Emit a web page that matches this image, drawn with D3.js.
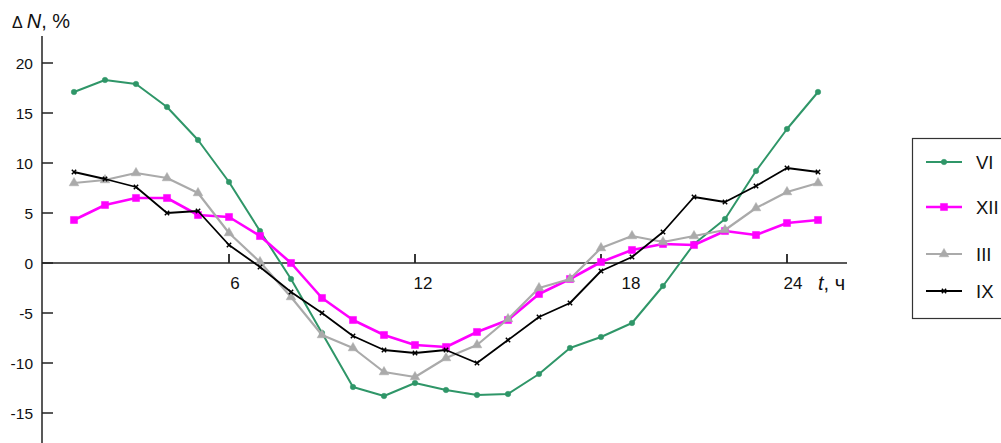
<!DOCTYPE html>
<html>
<head>
<meta charset="utf-8">
<script src="https://cdn.jsdelivr.net/npm/d3@7"></script>
<style>
  html, body { margin: 0; padding: 0; background: #fff; }
  svg { display: block; font-family: "Liberation Sans", Arial, sans-serif; }
</style>
</head>
<body>
<svg id="chart" width="1001" height="443"></svg>
<script>
// Hours of the day (1..25, hour 25 repeats hour 1)
const hours = d3.range(1, 26);

// Deviation of N from the daily mean, % — by month
const seriesVI  = [17.1, 18.3, 17.9, 15.6, 12.3, 8.1, 3.2, -1.6, -7.0, -12.4, -13.3, -12.0, -12.7, -13.2, -13.1, -11.1, -8.5, -7.4, -6.0, -2.3, 1.9, 4.4, 9.2, 13.4, 17.1];
const seriesXII = [4.3, 5.8, 6.5, 6.5, 4.8, 4.6, 2.7, 0.0, -3.5, -5.7, -7.2, -8.2, -8.4, -6.9, -5.7, -3.1, -1.6, 0.1, 1.3, 1.9, 1.8, 3.2, 2.8, 4.0, 4.3];
const seriesIII = [8.0, 8.3, 9.0, 8.5, 7.0, 3.0, 0.1, -3.4, -7.2, -8.5, -10.9, -11.4, -9.5, -8.2, -5.6, -2.5, -1.6, 1.5, 2.7, 2.1, 2.7, 3.3, 5.5, 7.1, 8.0];
const seriesIX  = [9.1, 8.4, 7.6, 5.0, 5.2, 1.8, -0.4, -2.9, -5.0, -7.3, -8.7, -9.0, -8.7, -10.0, -7.7, -5.4, -4.0, -0.8, 0.6, 3.1, 6.6, 6.1, 7.7, 9.5, 9.1];

const seriesNames = ["VI", "XII", "III", "IX"];
const yTickValues = [-15, -10, -5, 0, 5, 10, 15, 20];
const xTickValues = [6, 12, 18, 24];

const styles = {
  VI:  { color: "#2f9668", width: 2,   marker: "circle",   size: 24 },
  XII: { color: "#ff00ff", width: 2.6, marker: "square",   size: 50 },
  III: { color: "#aaaaaa", width: 2.2, marker: "triangle", size: 40 },
  IX:  { color: "#000000", width: 1.8, marker: "cross",    size: 14 }
};
const valuesByName = { VI: seriesVI, XII: seriesXII, III: seriesIII, IX: seriesIX };

const svg = d3.select("#chart");

const x = d3.scaleLinear().domain([0, 26]).range([43, 849]);
const y = d3.scaleLinear().domain([-18, 22.7]).range([443, 36]);

// Y axis: line plus inward ticks
const yAxis = svg.append("g").attr("transform", `translate(${x(0) - 1},0)`);
yAxis.append("line")
  .attr("x1", 0).attr("x2", 0)
  .attr("y1", y(22.7)).attr("y2", y(-18))
  .attr("stroke", "#222").attr("stroke-width", 1.5);
yAxis.selectAll("line.tick").data(yTickValues).join("line")
  .attr("class", "tick")
  .attr("x1", 0).attr("x2", 11)
  .attr("y1", d => y(d)).attr("y2", d => y(d))
  .attr("stroke", "#222").attr("stroke-width", 1.5);
yAxis.selectAll("text").data(yTickValues).join("text")
  .attr("x", -9).attr("y", d => y(d))
  .attr("text-anchor", "end").attr("dominant-baseline", "central")
  .attr("font-size", 15.5).attr("fill", "#111")
  .text(d => d);

// X axis along zero
const xAxis = svg.append("g");
xAxis.append("line")
  .attr("x1", x(0) - 1).attr("x2", 847)
  .attr("y1", y(0)).attr("y2", y(0))
  .attr("stroke", "#222").attr("stroke-width", 1.3);
xAxis.selectAll("line.tick").data(xTickValues).join("line")
  .attr("class", "tick")
  .attr("x1", d => x(d)).attr("x2", d => x(d))
  .attr("y1", y(0) - 9).attr("y2", y(0))
  .attr("stroke", "#222").attr("stroke-width", 1.8);
const xLabelShift = { 6: 6, 12: 8, 18: 30, 24: 6 };
xAxis.selectAll("text").data(xTickValues).join("text")
  .attr("x", d => x(d) + xLabelShift[d]).attr("y", y(0) + 20)
  .attr("text-anchor", "middle").attr("dominant-baseline", "central")
  .attr("font-size", 17).attr("fill", "#111")
  .text(d => d);

// Axis titles
const yTitle = svg.append("text").attr("x", 12).attr("y", 28)
  .attr("font-size", 20).attr("fill", "#111");
yTitle.append("tspan").attr("font-size", 16).text("Δ");
yTitle.append("tspan").attr("dx", 4).attr("font-style", "italic").text("N");
yTitle.append("tspan").text(", %");

const xTitle = svg.append("text").attr("x", 818).attr("y", y(0) + 27)
  .attr("font-size", 20).attr("fill", "#111");
xTitle.append("tspan").attr("font-style", "italic").text("t");
xTitle.append("tspan").text(", ч");

// Series lines and markers
const line = d3.line().x((d, i) => x(hours[i])).y(d => y(d));
const symbolType = {
  circle: d3.symbolCircle,
  square: d3.symbolSquare,
  triangle: d3.symbolTriangle,
  cross: d3.symbolTimes
};
function markerPath(name) {
  const s = styles[name];
  return d3.symbol().type(symbolType[s.marker]).size(s.size)();
}
function drawMarker(sel, name) {
  const s = styles[name];
  sel.attr("d", markerPath(name))
    .attr("fill", s.marker === "cross" ? "none" : s.color)
    .attr("stroke", s.color)
    .attr("stroke-width", s.marker === "cross" ? 1.5 : 0.5);
}

seriesNames.forEach(name => {
  const s = styles[name];
  const vals = valuesByName[name];
  const g = svg.append("g");
  g.append("path").datum(vals)
    .attr("d", line)
    .attr("fill", "none")
    .attr("stroke", s.color)
    .attr("stroke-width", s.width)
    .attr("stroke-linejoin", "round");
  g.selectAll("path.m").data(vals).join("path")
    .attr("class", "m")
    .attr("transform", (d, i) => `translate(${x(hours[i])},${y(d)})`)
    .call(drawMarker, name);
});

// Legend
const legend = svg.append("g");
legend.append("rect")
  .attr("x", 912.5).attr("y", 138.5).attr("width", 100).attr("height", 180)
  .attr("fill", "#fff").attr("stroke", "#333").attr("stroke-width", 1.2);
const legendRowY = { VI: 162, XII: 207, III: 254, IX: 291 };
seriesNames.forEach(name => {
  const s = styles[name];
  const ly = legendRowY[name];
  legend.append("line")
    .attr("x1", 926).attr("x2", 962).attr("y1", ly).attr("y2", ly)
    .attr("stroke", s.color).attr("stroke-width", s.width);
  legend.append("path")
    .attr("transform", `translate(944,${ly})`)
    .call(drawMarker, name);
  legend.append("text")
    .attr("x", 976).attr("y", ly)
    .attr("dominant-baseline", "central")
    .attr("font-size", 18.5).attr("fill", "#111")
    .text(name);
});
</script>
</body>
</html>
